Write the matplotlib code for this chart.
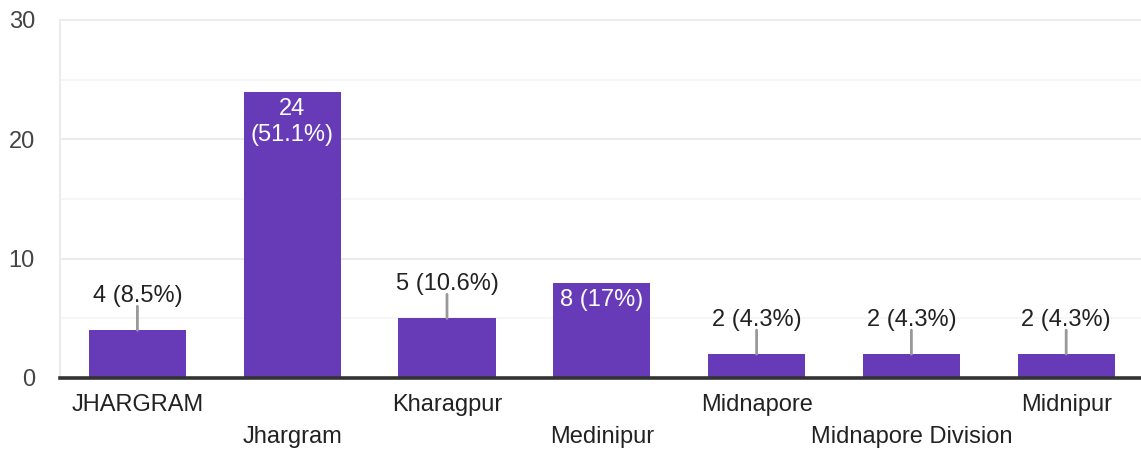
import matplotlib.pyplot as plt
from matplotlib import transforms

categories = ['JHARGRAM', 'Jhargram', 'Kharagpur', 'Medinipur', 'Midnapore',
              'Midnapore Division', 'Midnipur']
counts = [4, 24, 5, 8, 2, 2, 2]
labels = ['4 (8.5%)', '24\n(51.1%)', '5 (10.6%)', '8 (17%)', '2 (4.3%)',
          '2 (4.3%)', '2 (4.3%)']
inside = [False, True, False, True, False, False, False]
yticks = [0, 10, 20, 30]

plt.rcParams['font.family'] = ['Liberation Sans', 'DejaVu Sans']

W, H = 1141, 453
fig = plt.figure(figsize=(W / 100, H / 100), dpi=100)
ax = fig.add_axes([60 / W, 75 / H, 1081 / W, 358 / H])

bar_color = '#673ab7'
x = list(range(len(categories)))
ax.bar(x, counts, width=0.627, color=bar_color, zorder=3)

ax.set_xlim(-0.5, -0.5 + 1081 / 154.8)
ax.set_ylim(0, 30)

# grid
for v in [5, 15, 25]:
    ax.axhline(v, color='#f5f5f5', lw=1.2, zorder=1)
for v in [10, 20, 30]:
    ax.axhline(v, color='#ebebeb', lw=1.5, zorder=1, clip_on=False)
ax.axhline(0, color='#333333', lw=2.6, zorder=4, clip_on=False)
ax.axvline(-0.5, color='#ebebeb', lw=1.5, zorder=1, clip_on=False)

for s in ax.spines.values():
    s.set_visible(False)

ax.set_yticks(yticks)
ax.set_yticklabels([str(t) for t in yticks], fontsize=17, color='#444444')
ax.tick_params(axis='y', length=0, pad=18)
ax.set_xticks([])

# staggered category labels
for i, c in enumerate(categories):
    off = -27 if i % 2 == 0 else -59
    tr = transforms.offset_copy(ax.transData, fig=fig, x=0, y=off, units='dots')
    ax.text(i, 0, c, transform=tr, ha='center', va='center', fontsize=17,
            color='#222222', clip_on=False)

# value labels
for i, (v, lab, ins) in enumerate(zip(counts, labels, inside)):
    if ins:
        tr = transforms.offset_copy(ax.transData, fig=fig, x=0, y=-6, units='dots')
        ax.text(i, v, lab, transform=tr, ha='center', va='top', fontsize=17,
                color='white', zorder=5, linespacing=1.25)
    else:
        ax.annotate('', xy=(i, v), xytext=(0, 24), textcoords='offset pixels',
                    arrowprops=dict(arrowstyle='-', color='#999999', lw=2,
                                    shrinkA=0, shrinkB=0), zorder=4)
        tr = transforms.offset_copy(ax.transData, fig=fig, x=0, y=28, units='dots')
        ax.text(i, v, lab, transform=tr, ha='center', va='baseline', fontsize=17,
                color='#222222', zorder=5)

fig.savefig('out.png', dpi=100)
